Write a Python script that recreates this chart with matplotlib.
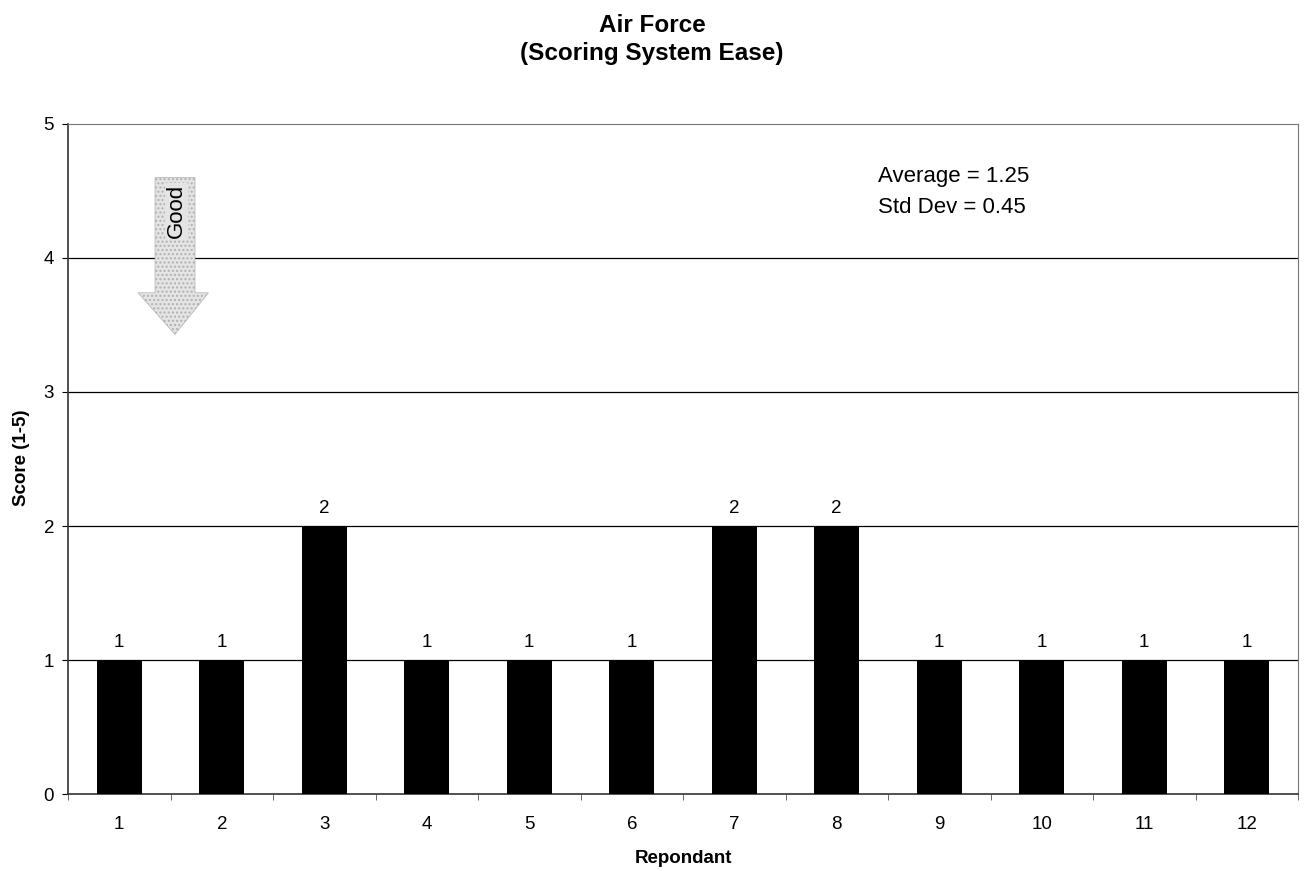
import matplotlib
matplotlib.use("Agg")
import matplotlib.pyplot as plt
from matplotlib.patches import Polygon

plt.rcParams['font.family'] = ['Liberation Sans', 'DejaVu Sans']

respondents = ['1', '2', '3', '4', '5', '6', '7', '8', '9', '10', '11', '12']
scores = [1, 1, 2, 1, 1, 1, 2, 2, 1, 1, 1, 1]
yticks = [0, 1, 2, 3, 4, 5]

W, H = 1304, 871
fig = plt.figure(figsize=(W/100, H/100), dpi=100)
ax = fig.add_axes([68/W, 1-794/H, (1298-68)/W, (794-124)/H])

x = list(range(len(respondents)))
ax.bar(x, scores, width=0.44, color='black', zorder=3)
for xi, s in zip(x, scores):
    ax.text(xi, s + 0.097, str(s), ha='center', va='baseline', fontsize=13.5)

ax.set_xlim(-0.5, len(respondents) - 0.5)
ax.set_ylim(0, 5)
ax.set_yticks(yticks)
ax.set_yticklabels([str(t) for t in yticks], fontsize=13.5)
ax.set_xticks(x)
ax.set_xticklabels(respondents, fontsize=13.5)
ax.set_xticks([i - 0.5 for i in range(len(respondents) + 1)], minor=True)
ax.tick_params(axis='x', which='major', length=0, pad=15.5)
ax.tick_params(axis='x', which='minor', length=4, direction='out', color='#555555')
ax.tick_params(axis='y', length=4, direction='out', pad=6)
for yv in yticks[1:-1]:
    ax.axhline(yv, color='black', linewidth=0.9, zorder=1)
for side in ['top', 'right']:
    ax.spines[side].set_color('#777777')
    ax.spines[side].set_linewidth(0.8)
for side in ['left', 'bottom']:
    ax.spines[side].set_color('#333333')
    ax.spines[side].set_linewidth(1.2)

fig.text(22/W, 1 - 458/H, 'Score (1-5)', rotation=90, ha='center', va='center',
         fontsize=13.5, fontweight='bold')
fig.text(683/W, 1 - 863/H, 'Repondant', ha='center', va='baseline',
         fontsize=13.5, fontweight='bold')

fig.text(0.5, 1 - 32/H, 'Air Force', ha='center', va='baseline', fontsize=17.5, fontweight='bold')
fig.text(0.5, 1 - 60/H, '(Scoring System Ease)', ha='center', va='baseline', fontsize=17.5, fontweight='bold')

# "Good" arrow
arrow = Polygon([(0.349, 4.6), (0.739, 4.6), (0.739, 3.74), (0.87, 3.74),
                 (0.544, 3.43), (0.183, 3.74), (0.349, 3.74)],
                closed=True, facecolor='#e4e4e4', edgecolor='#b0b0b0',
                hatch='....', linewidth=0.5, zorder=4)
ax.add_patch(arrow)
ax.text(0.56, 4.35, 'Good', rotation=90, ha='center', va='center', fontsize=16, zorder=5,
        bbox=dict(facecolor='#e4e4e4', edgecolor='none', pad=1))

fig.text(878/W, 1 - 182/H, 'Average = 1.25', ha='left', va='baseline', fontsize=16)
fig.text(878/W, 1 - 213/H, 'Std Dev = 0.45', ha='left', va='baseline', fontsize=16)

fig.savefig('out.png', dpi=100)
